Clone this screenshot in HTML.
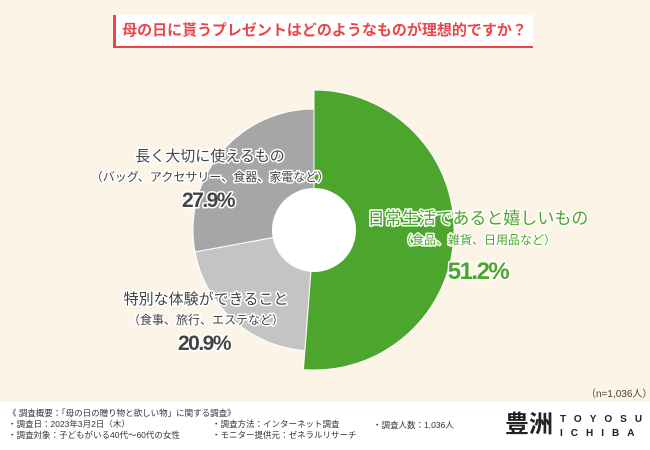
<!DOCTYPE html>
<html><head><meta charset="utf-8"><style>
body{margin:0;width:650px;height:450px;overflow:hidden;background:#fcf4e6;font-family:"Liberation Sans","Noto Sans CJK JP",sans-serif;position:relative}
.t{position:absolute}
</style></head><body>
<div class="t" style="left:113px;top:15px;width:417px;height:31px;background:#fff;border-left:3px solid #e8464a;border-bottom:2px solid #e8464a;color:#e8464a;font-size:15px;font-weight:bold;line-height:31px;text-align:center;white-space:nowrap">母の日に貰うプレゼントはどのようなものが理想的ですか？</div>
<svg class="t" style="left:0;top:0" width="650" height="400"><g id="pie"></g></svg>
<div class="t" style="left:586px;top:385px;font-size:10px;color:#444">（n=1,036人）</div>
<div class="t" style="left:0;top:402px;width:650px;height:48px;background:#fff"></div>
<div class="t" style="left:8px;top:408px;font-size:8.5px;color:#333;line-height:11px">《 調査概要：「母の日の贈り物と欲しい物」に関する調査》<br>・調査日：2023年3月2日（木）<br>・調査対象：子どもがいる40代〜60代の女性</div>
<div class="t" style="left:212px;top:419px;font-size:8.5px;color:#333;line-height:11px">・調査方法：インターネット調査<br>・モニター提供元：ゼネラルリサーチ</div>
<div class="t" style="left:373px;top:419px;font-size:8.5px;color:#333">・調査人数：1,036人</div>
<div class="t" style="left:505px;top:411px;font-size:24px;font-weight:bold;color:#222;line-height:28px">豊洲</div>
<div class="t" style="left:560px;top:413px;font-size:10px;font-weight:bold;color:#222;letter-spacing:8px;line-height:14px">TOYOSU<br>ICHIBA</div>
<script>
const categories=["日常生活であると嬉しいもの","特別な体験ができること","長く大切に使えるもの"];
const subLabels=["（食品、雑貨、日用品など）","（食事、旅行、エステなど）","（バッグ、アクセサリー、食器、家電など）"];
const values=[51.2,20.9,27.9];
const colors=["#4ca52c","#c4c4c4","#a6a6a6"];
const radii=[140,121,121];
const cx=314,cy=230,hole=42;
const ns="http://www.w3.org/2000/svg";
const g=document.getElementById('pie');
const total=values.reduce((a,b)=>a+b,0);
let a0=0;
values.forEach((v,i)=>{
 const a1=a0+v/total*2*Math.PI,r=radii[i];
 const x0=cx+r*Math.sin(a0),y0=cy-r*Math.cos(a0),x1=cx+r*Math.sin(a1),y1=cy-r*Math.cos(a1);
 const p=document.createElementNS(ns,'path');
 p.setAttribute('d',`M${cx},${cy}L${x0},${y0}A${r},${r} 0 ${a1-a0>Math.PI?1:0} 1 ${x1},${y1}Z`);
 p.setAttribute('fill',colors[i]);p.setAttribute('stroke','#fff');p.setAttribute('stroke-width','1');
 
 
 g.appendChild(p);a0=a1;
});
const c=document.createElementNS(ns,'circle');
c.setAttribute('cx',cx);c.setAttribute('cy',cy);c.setAttribute('r',hole);c.setAttribute('fill','#fff');


g.appendChild(c);
const pos=[[478,224,'#4ca52c'],[206,304,'#444'],[210,161,'#444']];
const stroke='paint-order:stroke;stroke:#fff;stroke-width:3px;stroke-linejoin:round';
categories.forEach((cat,i)=>{
 const [x,y,col]=pos[i];
 const t=document.createElementNS(ns,'text');
 t.setAttribute('x',x);t.setAttribute('y',y);t.setAttribute('text-anchor','middle');
 t.setAttribute('style',`font-size:${i==0?17:15}px;fill:${col};${stroke}`);
 t.textContent=cat;
 
 
 g.appendChild(t);
 const s=document.createElementNS(ns,'text');
 s.setAttribute('x',x);s.setAttribute('y',y+20);s.setAttribute('text-anchor','middle');
 s.setAttribute('style',`font-size:12px;fill:${col};${stroke}`);
 s.textContent=subLabels[i];
 
 
 g.appendChild(s);
 const v=document.createElementNS(ns,'text');
 v.setAttribute('x',x+(i==0?0:-2));v.setAttribute('y',y+(i==0?55:46));v.setAttribute('text-anchor','middle');
 v.setAttribute('style',`font-size:${i==0?24:21}px;font-weight:bold;fill:${col};${stroke};letter-spacing:-1.5px`);
 v.textContent=values[i].toFixed(1)+'%';
 
 
 g.appendChild(v);
});
</script>
</body></html>
